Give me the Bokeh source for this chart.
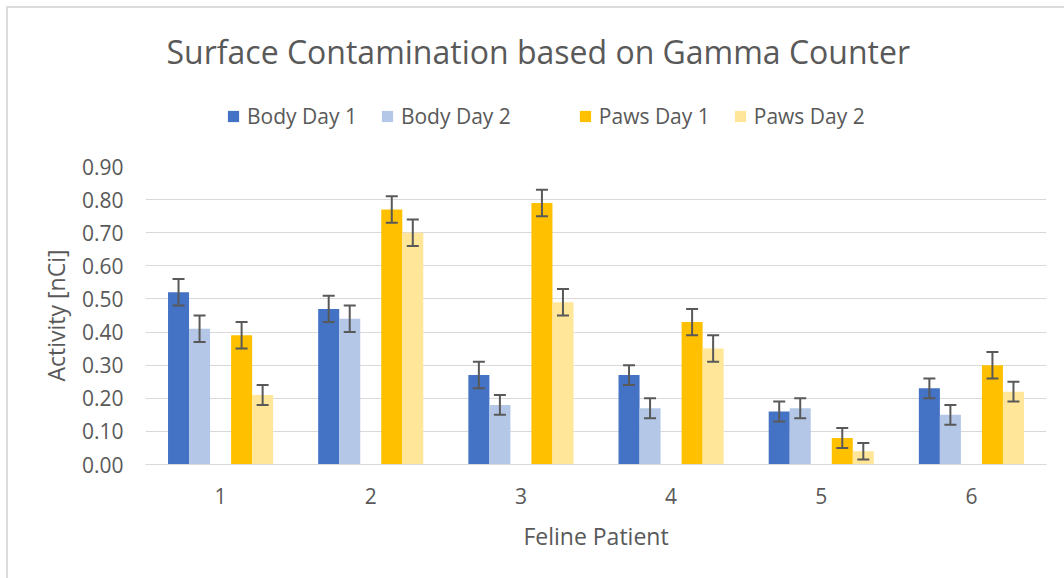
from bokeh.plotting import figure
from bokeh.layouts import column
from bokeh.models import (ColumnDataSource, FactorRange, Range1d, FixedTicker,
                          NumeralTickFormatter, Legend, LegendItem, Whisker, TeeHead)
from bokeh.transform import dodge
from bokeh.embed import file_html
from bokeh.resources import INLINE

# ---------------- data ----------------
patients = ["1", "2", "3", "4", "5", "6"]
body_day1 = [0.52, 0.47, 0.27, 0.27, 0.16, 0.23]
body_day2 = [0.41, 0.44, 0.18, 0.17, 0.17, 0.15]
paws_day1 = [0.39, 0.77, 0.79, 0.43, 0.08, 0.30]
paws_day2 = [0.21, 0.70, 0.49, 0.35, 0.04, 0.22]
body_day1_err = [0.04, 0.04, 0.04, 0.03, 0.03, 0.03]
body_day2_err = [0.04, 0.04, 0.03, 0.03, 0.03, 0.03]
paws_day1_err = [0.04, 0.04, 0.04, 0.04, 0.03, 0.04]
paws_day2_err = [0.03, 0.04, 0.04, 0.04, 0.025, 0.03]
y_ticks = [0.0, 0.1, 0.2, 0.3, 0.4, 0.5, 0.6, 0.7, 0.8, 0.9]

series = [
    ("Body Day 1", body_day1, body_day1_err, -0.28, "#4472C4"),
    ("Body Day 2", body_day2, body_day2_err, -0.14, "#B4C7E7"),
    ("Paws Day 1", paws_day1, paws_day1_err, 0.14, "#FFC000"),
    ("Paws Day 2", paws_day2, paws_day2_err, 0.28, "#FFE699"),
]

FONT = "Open Sans"
TXT = "#595959"

data = {"patient": patients}
for name, vals, errs, off, col in series:
    key = name.replace(" ", "_").lower()
    data[key] = vals
    data[key + "_up"] = [v + e for v, e in zip(vals, errs)]
    data[key + "_lo"] = [v - e for v, e in zip(vals, errs)]
src = ColumnDataSource(data)

# ---------------- header (title + legend) ----------------
# its y range lies above every value, so its legend-key bars are never drawn
head = figure(width=1056, height=130, output_backend="svg", toolbar_location=None,
              x_range=FactorRange(factors=patients, range_padding=0),
              y_range=Range1d(1, 2),
              x_axis_type=None, y_axis_type=None,
              min_border_left=137, min_border_right=18, min_border_top=70,
              min_border_bottom=0)
head.outline_line_color = None
head.xgrid.visible = False
head.ygrid.visible = False
head.background_fill_color = "white"
head.border_fill_color = "white"
head.title.text = "Surface Contamination based on Gamma Counter"
head.title.text_font = FONT
head.title.text_font_size = "32px"
head.title.text_font_style = "normal"
head.title.text_color = TXT
head.title.align = "left"
head.title.offset = 21
head.title.standoff = 12

legend_items = []
for name, vals, errs, off, col in series:
    key = name.replace(" ", "_").lower()
    kr = head.vbar(x=dodge("patient", off, range=head.x_range), top=key, width=0.14,
                   source=src, fill_color=col, line_color=None)
    legend_items.append(LegendItem(label=name, renderers=[kr]))
    if name == "Body Day 2":
        # the blank (empty) series slot between the body and paws groups
        blank_src = ColumnDataSource(data={"x": [], "top": []})
        br = head.vbar(x="x", top="top", width=0.1, source=blank_src,
                       fill_color=None, line_color=None)
        legend_items.append(LegendItem(label=" ", renderers=[br]))

legend = Legend(items=legend_items, location=(81, 8), orientation="horizontal")
legend.border_line_color = None
legend.background_fill_alpha = 0
legend.padding = 0
legend.margin = 0
legend.spacing = 23
legend.glyph_width = 14
legend.glyph_height = 14
legend.label_width = 0
legend.label_standoff = 7
legend.label_text_font = FONT
legend.label_text_font_size = "21px"
legend.label_text_color = TXT
head.add_layout(legend)

# ---------------- main chart ----------------
p = figure(width=1056, height=440, output_backend="svg", toolbar_location=None,
           x_range=FactorRange(factors=patients, range_padding=0),
           y_range=Range1d(0, 0.9),
           min_border_left=137, min_border_right=18, min_border_top=28,
           min_border_bottom=114)
p.outline_line_color = None
p.background_fill_color = "white"
p.border_fill_color = "white"

p.yaxis.ticker = FixedTicker(ticks=y_ticks)
p.yaxis.formatter = NumeralTickFormatter(format="0.00")
p.yaxis.axis_line_color = None
p.yaxis.major_tick_line_color = None
p.yaxis.minor_tick_line_color = None
p.yaxis.major_tick_out = 0
p.yaxis.major_tick_in = 0
p.yaxis.major_label_standoff = 22
p.yaxis.major_label_text_font = FONT
p.yaxis.major_label_text_font_size = "21px"
p.yaxis.major_label_text_color = TXT
p.yaxis.axis_label = "Activity [nCi]"
p.yaxis.axis_label_text_font = FONT
p.yaxis.axis_label_text_font_size = "23px"
p.yaxis.axis_label_text_font_style = "normal"
p.yaxis.axis_label_text_color = TXT
p.yaxis.axis_label_standoff = 7

p.xaxis.axis_line_color = "#d9d9d9"
p.xaxis.axis_line_width = 1
p.xaxis.major_tick_line_color = None
p.xaxis.minor_tick_line_color = None
p.xaxis.major_tick_out = 0
p.xaxis.major_tick_in = 0
p.xaxis.major_label_standoff = 23
p.xaxis.major_label_text_font = FONT
p.xaxis.major_label_text_font_size = "21px"
p.xaxis.major_label_text_color = TXT
p.xaxis.axis_label = "Feline Patient"
p.xaxis.axis_label_text_font = FONT
p.xaxis.axis_label_text_font_size = "23px"
p.xaxis.axis_label_text_font_style = "normal"
p.xaxis.axis_label_text_color = TXT
p.xaxis.axis_label_standoff = 13

p.xgrid.grid_line_color = None
p.ygrid.grid_line_color = "#d9d9d9"
p.ygrid.grid_line_width = 1

for name, vals, errs, off, col in series:
    key = name.replace(" ", "_").lower()
    p.vbar(x=dodge("patient", off, range=p.x_range), top=key, width=0.14,
           source=src, fill_color=col, line_color=None)
    w = Whisker(source=src, base=dodge("patient", off, range=p.x_range),
                upper=key + "_up", lower=key + "_lo",
                line_color="#595959", line_width=2, level="overlay",
                upper_head=TeeHead(size=12, line_color="#595959", line_width=2),
                lower_head=TeeHead(size=12, line_color="#595959", line_width=2))
    p.add_layout(w)

layout = column(head, p, spacing=0)
layout.styles = {"margin-left": "6px", "margin-top": "6px",
                 "border-top": "2px solid #dcdcdc", "border-left": "2px solid #dcdcdc"}

open("out.html", "w").write(file_html(layout, INLINE))
